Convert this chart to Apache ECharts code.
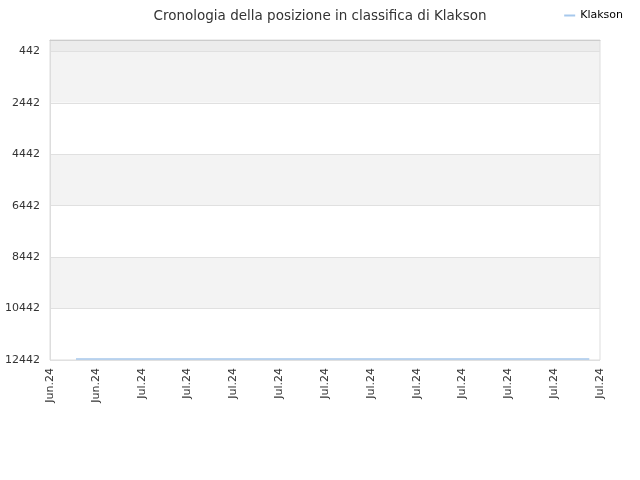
<!DOCTYPE html>
<html><head><meta charset="utf-8">
<script src="https://cdn.jsdelivr.net/npm/echarts@6/dist/echarts.min.js"></script>
<style>html,body{margin:0;padding:0;background:#fff}#c{width:640px;height:480px}</style>
</head><body><div id="c"></div>
<script>
const seriesName = 'Klakson';
const xTickLabels = ['Jun.24','Jun.24','Jul.24','Jul.24','Jul.24','Jul.24','Jul.24','Jul.24','Jul.24','Jul.24','Jul.24','Jul.24','Jul.24'];
const yTicks = [442, 2442, 4442, 6442, 8442, 10442, 12442];
const days = [1.7, 5, 10, 15, 20, 25, 30, 35.3];
const ranks = [12400, 12400, 12400, 12400, 12400, 12400, 12400, 12400];

const bands = [];
bands.push([{yAxis: 0, itemStyle:{color:'#ececec'}}, {yAxis: yTicks[0]}]);
for (let i = 0; i < yTicks.length - 1; i++) {
  bands.push([{yAxis: yTicks[i], itemStyle:{color: i % 2 === 0 ? '#f3f3f3' : '#ffffff'}}, {yAxis: yTicks[i+1]}]);
}

const chart = echarts.init(document.getElementById('c'));
chart.setOption({
  animation: false,
  title: {text: 'Cronologia della posizione in classifica di Klakson', left: 'center', top: 4,
    textStyle: {fontSize: 13.5, fontWeight: 'normal', color: '#333', fontFamily: 'DejaVu Sans'}},
  legend: {right: 12, top: 5, data: [seriesName], itemWidth: 11, itemHeight: 2, icon: 'rect',
    textStyle: {fontSize: 11, color: '#000', fontFamily: 'DejaVu Sans'}},
  grid: {left: 50, right: 40, top: 40, bottom: 120, show: true, borderColor: '#dddddd', borderWidth: 1, z: 10},
  xAxis: {type: 'value', min: 0, max: 36, interval: 3, z: 10,
    axisLine: {show: true, lineStyle: {color: '#cccccc'}}, axisTick: {show: false}, splitLine: {show: false},
    axisLabel: {rotate: 90, fontSize: 11, color: '#333', fontFamily: 'DejaVu Sans', margin: 8,
      formatter: v => xTickLabels[Math.round(v / 3)] || ''}},
  yAxis: {type: 'value', inverse: true, min: 0, max: 12442, z: 10,
    axisLine: {show: true, lineStyle: {color: '#dddddd'}},
    axisTick: {show: false, customValues: yTicks},
    axisLabel: {customValues: yTicks, fontSize: 11, color: '#333', fontFamily: 'DejaVu Sans', margin: 10,
      formatter: v => String(v)},
    splitLine: {show: true, lineStyle: {color: '#e0e0e0'}},
    splitArea: {show: false}},
  series: [
    {name: 'bands', type: 'line', data: [], z: 1, silent: true, markArea: {silent: true, data: bands}},
    {name: seriesName, type: 'line', showSymbol: false, symbol: 'none',
    data: days.map((d, i) => [d, ranks[i]]),
    lineStyle: {color: '#a6c8ec', width: 1.5}, itemStyle: {color: '#a6c8ec'}, z: 12}]
});
</script></body></html>
